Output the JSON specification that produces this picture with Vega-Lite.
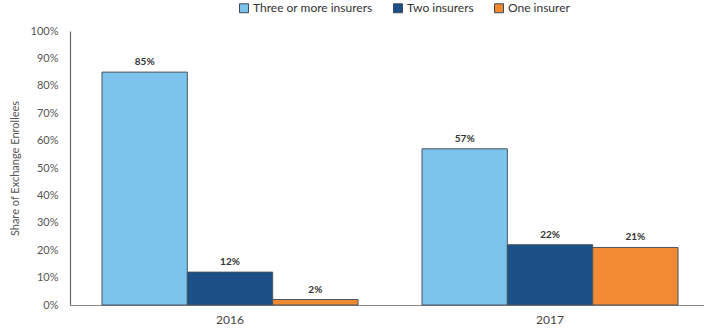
{
  "$schema": "https://vega.github.io/schema/vega-lite/v6.json",
  "autosize": {"type": "none"},
  "width": 634,
  "height": 274,
  "padding": {"left": 70, "top": 31, "right": 0, "bottom": 29},
  "background": "white",
  "config": {
    "font": "Lato",
    "view": {"stroke": null}
  },
  "data": {
    "values": [
      {"year": "2016", "group": "Three or more insurers", "share": 0.85, "label": "85%"},
      {"year": "2016", "group": "Two insurers", "share": 0.12, "label": "12%"},
      {"year": "2016", "group": "One insurer", "share": 0.02, "label": "2%"},
      {"year": "2017", "group": "Three or more insurers", "share": 0.57, "label": "57%"},
      {"year": "2017", "group": "Two insurers", "share": 0.22, "label": "22%"},
      {"year": "2017", "group": "One insurer", "share": 0.21, "label": "21%"}
    ]
  },
  "encoding": {
    "x": {
      "field": "year", "type": "nominal",
      "scale": {"paddingInner": 0.2, "paddingOuter": 0.0906, "align": 0.552},
      "axis": {
        "title": null, "labelAngle": 0, "ticks": false, "labelPadding": 9,
        "labelFontSize": 12, "labelColor": "#444", "domainColor": "#888", "domainWidth": 1.2
      }
    },
    "xOffset": {
      "field": "group", "type": "nominal",
      "sort": ["Three or more insurers", "Two insurers", "One insurer"],
      "scale": {"paddingInner": 0, "paddingOuter": 0}
    }
  },
  "layer": [
    {
      "mark": {"type": "bar", "stroke": "#4a5560", "strokeWidth": 1},
      "encoding": {
        "y": {
          "field": "share", "type": "quantitative",
          "scale": {"domain": [0, 1]},
          "axis": {
            "format": ".0%", "tickCount": 10, "grid": false, "ticks": false,
            "labelPadding": 12, "labelFontSize": 11, "labelColor": "#555",
            "domainColor": "#666", "domainWidth": 1.2,
            "title": "Share of Exchange Enrollees", "titleFontSize": 11,
            "titleFontWeight": "normal", "titleColor": "#555", "titlePadding": 10
          }
        },
        "color": {
          "field": "group", "type": "nominal",
          "sort": ["Three or more insurers", "Two insurers", "One insurer"],
          "scale": {
            "domain": ["Three or more insurers", "Two insurers", "One insurer"],
            "range": ["#7cc4ec", "#1b4f86", "#f08a33"]
          },
          "legend": {
            "title": null, "orient": "none", "direction": "horizontal",
            "legendX": 168, "legendY": -29,
            "symbolType": "square", "symbolSize": 80, "symbolStrokeColor": "#3a4a5a",
            "symbolStrokeWidth": 1, "labelFontSize": 12, "labelColor": "#333",
            "columnPadding": 18, "labelOffset": 3
          }
        }
      }
    },
    {
      "mark": {"type": "text", "dy": -10, "fontSize": 10, "fontWeight": "bold", "color": "#333"},
      "encoding": {
        "y": {"field": "share", "type": "quantitative"},
        "text": {"field": "label"}
      }
    }
  ]
}
